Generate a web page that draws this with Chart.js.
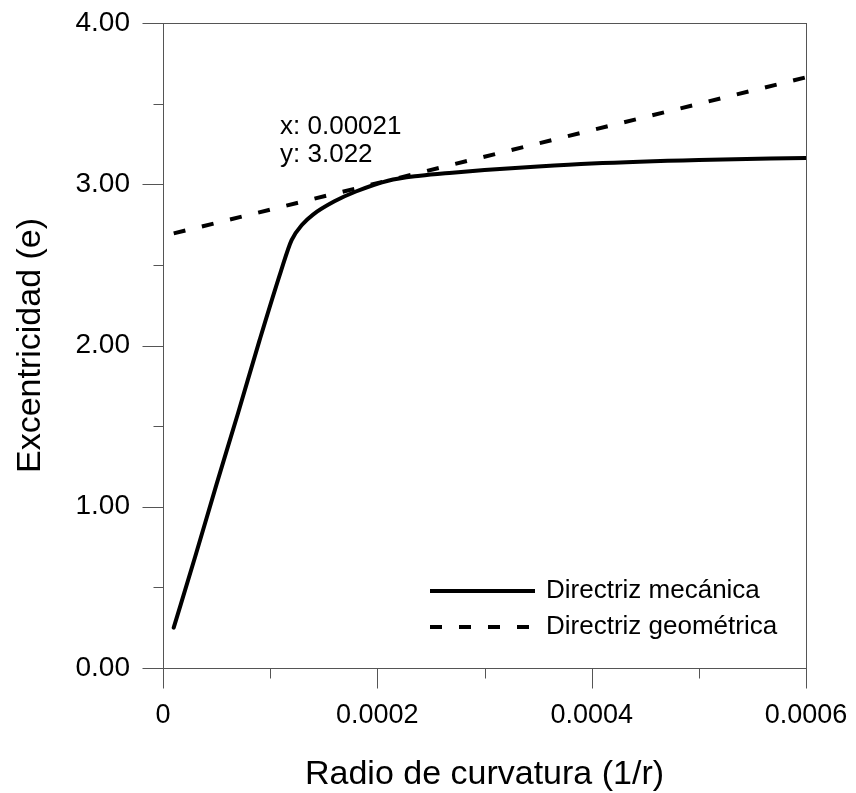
<!DOCTYPE html>
<html>
<head>
<meta charset="utf-8">
<script src="https://cdn.jsdelivr.net/npm/chart.js@4.4.0/dist/chart.umd.min.js"></script>
<style>
  html, body { margin: 0; padding: 0; background: #fff; }
</style>
</head>
<body>
<canvas id="chart" width="856" height="793"></canvas>
<script>
// values
const mecX = [0.00001, 0.00003, 0.00005, 0.00007, 0.00009, 0.00011, 0.00012, 0.00013, 0.00014,
              0.00016, 0.00018, 0.00021, 0.00024, 0.00027, 0.0003, 0.00035, 0.0004, 0.0005, 0.0006];
const mecY = [0.25, 0.69, 1.14, 1.58, 2.03, 2.46, 2.654, 2.75, 2.812,
              2.894, 2.955, 3.022, 3.053, 3.072, 3.088, 3.11, 3.128, 3.15, 3.163];
const geoX = [0.00001, 0.0006];
const geoY = [2.695, 3.663];
const seriesNames = ['Directriz mecánica', 'Directriz geométrica'];
const markX = 0.00021;
const markY = 3.022;

const FONT = "'Liberation Sans', Arial, sans-serif";

const toPoints = (xs, ys) => xs.map((v, i) => ({ x: v, y: ys[i] }));

// box, major and minor ticks
const framePlugin = {
    id: 'frame',
    afterDatasetsDraw(chart) {
        const { ctx, chartArea: a, scales: { x, y } } = chart;
        ctx.save();
        ctx.strokeStyle = '#555';
        ctx.lineWidth = 1;
        const L = Math.round(a.left) + 0.5, R = Math.round(a.right) + 0.5;
        const T = Math.round(a.top) + 0.5, B = Math.round(a.bottom) + 0.5;
        ctx.strokeRect(L, T, R - L, B - T);
        const line = (x1, y1, x2, y2) => { ctx.beginPath(); ctx.moveTo(x1, y1); ctx.lineTo(x2, y2); ctx.stroke(); };

        const xt = x.ticks.map(t => t.value);
        xt.forEach((v, i) => {
            const px = Math.round(x.getPixelForValue(v)) + 0.5;
            line(px, B, px, B + 20);
            if (i < xt.length - 1) {
                const m = Math.round(x.getPixelForValue((v + xt[i + 1]) / 2)) + 0.5;
                line(m, B, m, B + 10);
            }
        });
        const yt = y.ticks.map(t => t.value);
        yt.forEach((v, i) => {
            const py = Math.round(y.getPixelForValue(v)) + 0.5;
            line(L - 21, py, L, py);
            if (i < yt.length - 1) {
                const m = Math.round(y.getPixelForValue((v + yt[i + 1]) / 2)) + 0.5;
                line(L - 10, m, L, m);
            }
        });
        ctx.restore();
    }
};

// legend inside the plot, lower right
const legendPlugin = {
    id: 'boxLegend',
    afterDraw(chart) {
        const { ctx, chartArea: a } = chart;
        ctx.save();
        ctx.font = '26px ' + FONT;
        ctx.fillStyle = '#000';
        ctx.textBaseline = 'middle';
        chart.data.datasets.forEach((ds, i) => {
            const yy = a.bottom - 77 + i * 36;
            const x0 = a.right - 376;
            ctx.strokeStyle = ds.borderColor;
            ctx.lineWidth = ds.borderWidth;
            ctx.lineCap = 'butt';
            ctx.setLineDash(ds.borderDash || []);
            ctx.beginPath();
            ctx.moveTo(x0, yy);
            ctx.lineTo(x0 + 105, yy);
            ctx.stroke();
            ctx.setLineDash([]);
            ctx.fillText(ds.label, x0 + 116, yy);
        });
        ctx.restore();
    }
};

// readout label above the marked point
const markPlugin = {
    id: 'mark',
    afterDraw(chart) {
        const { ctx, scales: { x, y } } = chart;
        const px = x.getPixelForValue(markX);
        const py = y.getPixelForValue(markY);
        ctx.save();
        ctx.font = '26px ' + FONT;
        ctx.fillStyle = '#000';
        ctx.textBaseline = 'middle';
        ctx.fillText('x: ' + markX, px - 108, py - 54);
        ctx.fillText('y: ' + markY.toFixed(3), px - 108, py - 26);
        ctx.restore();
    }
};

const noScalePadding = s => { s.paddingTop = 0; s.paddingBottom = 0; s.paddingLeft = 0; s.paddingRight = 0; };

new Chart(document.getElementById('chart'), {
    type: 'line',
    data: {
        datasets: [
            {
                label: seriesNames[0],
                data: toPoints(mecX, mecY),
                borderColor: '#000',
                borderWidth: 4,
                borderCapStyle: 'round',
                cubicInterpolationMode: 'monotone',
                pointRadius: 0,
                fill: false
            },
            {
                label: seriesNames[1],
                data: toPoints(geoX, geoY),
                borderColor: '#000',
                borderWidth: 4,
                borderDash: [12, 17],
                borderCapStyle: 'butt',
                pointRadius: 0,
                fill: false
            }
        ]
    },
    options: {
        responsive: false,
        animation: false,
        devicePixelRatio: 1,
        layout: { padding: { left: 0, right: 50, top: 23, bottom: 0 } },
        plugins: {
            legend: { display: false },
            tooltip: { enabled: false }
        },
        scales: {
            x: {
                type: 'linear',
                min: 0,
                max: 0.0006,
                grid: { display: false, drawTicks: false },
                border: { display: false },
                ticks: {
                    stepSize: 0.0002,
                    padding: 31,
                    color: '#000',
                    font: { family: FONT, size: 27 },
                    callback: v => String(Math.round(v * 1e4) / 1e4)
                },
                title: {
                    display: true,
                    text: 'Radio de curvatura (1/r)',
                    color: '#000',
                    font: { family: FONT, size: 34, lineHeight: 1 },
                    padding: { top: 0, bottom: 1 }
                },
                afterFit: s => { s.height = 125; noScalePadding(s); }
            },
            y: {
                min: 0,
                max: 4,
                grid: { display: false, drawTicks: false },
                border: { display: false },
                ticks: {
                    stepSize: 1,
                    padding: 33,
                    color: '#000',
                    font: { family: FONT, size: 28 },
                    callback: v => v.toFixed(2)
                },
                title: {
                    display: true,
                    text: 'Excentricidad (e)',
                    color: '#000',
                    font: { family: FONT, size: 34, lineHeight: 1 },
                    padding: { top: 14, bottom: 0 }
                },
                afterFit: s => { s.width = 163; noScalePadding(s); }
            }
        }
    },
    plugins: [framePlugin, legendPlugin, markPlugin]
});
</script>
</body>
</html>
